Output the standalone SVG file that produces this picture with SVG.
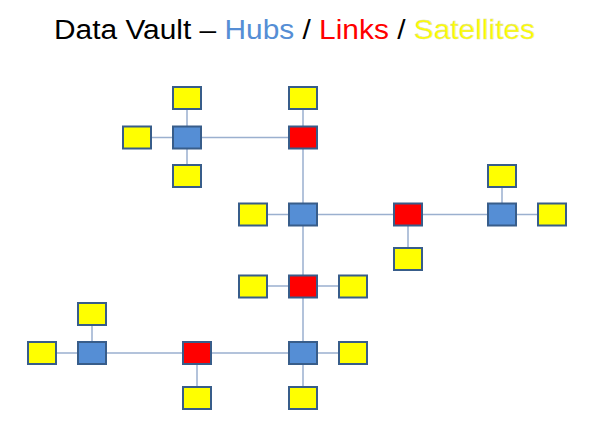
<svg xmlns="http://www.w3.org/2000/svg" width="600" height="426" viewBox="0 0 600 426">
<style>
.h{fill:#558ed5;stroke:#385d8a;stroke-width:2}
.l{fill:#ff0000;stroke:#385d8a;stroke-width:2}
.s{fill:#ffff00;stroke:#385d8a;stroke-width:2}
.c{stroke:#9bb0cf;stroke-width:1.5;fill:none}
.t{font-family:"Liberation Sans","Open Sans",sans-serif;font-size:27px}
</style>
<rect width="600" height="426" fill="#ffffff"/>
<text class="t" x="54" y="39" textLength="481" lengthAdjust="spacingAndGlyphs"><tspan fill="#000000">Data Vault – </tspan><tspan fill="#558ed5">Hubs</tspan><tspan fill="#000000"> / </tspan><tspan fill="#ff0000">Links</tspan><tspan fill="#000000"> / </tspan><tspan fill="#ffff00" stroke="#d8d8a0" stroke-width="0.4">Satellites</tspan></text>
<g id="connectors">
<path class="c" d="M187 98V176M137 137.5H303M303 98V286M253 214.5H552M502 176V214.5M408 214.5V259M253 286H353M303 286V398M42 353H353M92 314V353M197 353V398"/>
</g>
<g id="hub1"><rect class="h" x="173" y="126.5" width="28" height="22"/></g>
<g id="sat1a"><rect class="s" x="173" y="87" width="28" height="22"/></g>
<g id="sat1b"><rect class="s" x="123" y="126.5" width="28" height="22"/></g>
<g id="sat1c"><rect class="s" x="173" y="165" width="28" height="22"/></g>
<g id="link1"><rect class="l" x="289" y="126.5" width="28" height="22"/></g>
<g id="sat2"><rect class="s" x="289" y="87" width="28" height="22"/></g>
<g id="hub2"><rect class="h" x="289" y="203.5" width="28" height="22"/></g>
<g id="sat3"><rect class="s" x="239" y="203.5" width="28" height="22"/></g>
<g id="link2"><rect class="l" x="394" y="203.5" width="28" height="22"/></g>
<g id="sat4"><rect class="s" x="394" y="248" width="28" height="22"/></g>
<g id="hub3"><rect class="h" x="488" y="203.5" width="28" height="22"/></g>
<g id="sat5a"><rect class="s" x="488" y="165" width="28" height="22"/></g>
<g id="sat5b"><rect class="s" x="538" y="203.5" width="28" height="22"/></g>
<g id="link3"><rect class="l" x="289" y="275.5" width="28" height="22"/></g>
<g id="sat6a"><rect class="s" x="239" y="275.5" width="28" height="22"/></g>
<g id="sat6b"><rect class="s" x="339" y="275.5" width="28" height="22"/></g>
<g id="hub4"><rect class="h" x="289" y="342" width="28" height="22"/></g>
<g id="sat7a"><rect class="s" x="339" y="342" width="28" height="22"/></g>
<g id="sat7b"><rect class="s" x="289" y="387" width="28" height="22"/></g>
<g id="link4"><rect class="l" x="183" y="342" width="28" height="22"/></g>
<g id="sat8"><rect class="s" x="183" y="387" width="28" height="22"/></g>
<g id="hub5"><rect class="h" x="78" y="342" width="28" height="22"/></g>
<g id="sat9a"><rect class="s" x="78" y="303" width="28" height="22"/></g>
<g id="sat9b"><rect class="s" x="28" y="342" width="28" height="22"/></g>
</svg>
